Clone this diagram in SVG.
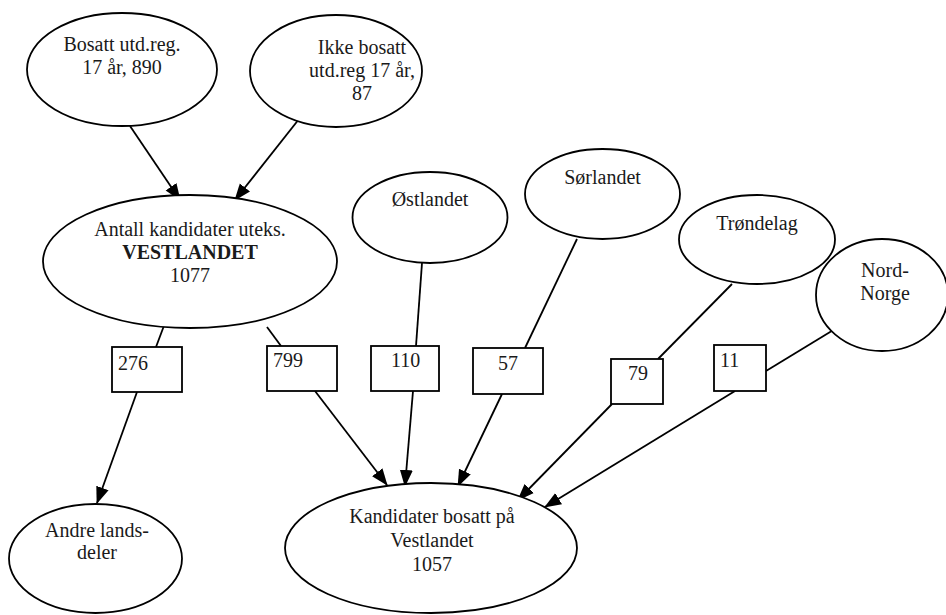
<svg xmlns="http://www.w3.org/2000/svg" width="946" height="615" viewBox="0 0 946 615">
<style>
  .n ellipse, .n rect { fill: #fff; stroke: #000; stroke-width: 1.8; }
  text { font-family: "Liberation Serif", "Times New Roman", serif; font-size: 20px; fill: #1a1a1a; }
  .c { text-anchor: middle; }
  .e line { stroke: #000; stroke-width: 1.8; }
  .a { marker-end: url(#ah); }
</style>
<defs>
  <marker id="ah" markerUnits="userSpaceOnUse" markerWidth="18" markerHeight="14" refX="16" refY="7" orient="auto">
    <path d="M0,0.5 L17,7 L0,13.5 Z" fill="#000"/>
  </marker>
</defs>
<rect width="946" height="615" fill="#fff"/>
<g id="edges" class="e">
  <line class="a" x1="130" y1="126" x2="180" y2="200"/>
  <line class="a" x1="303" y1="114" x2="235" y2="200"/>
  <line x1="165" y1="323" x2="156" y2="347"/>
  <line class="a" x1="137" y1="392" x2="97" y2="503"/>
  <line x1="267" y1="327" x2="281" y2="346"/>
  <line class="a" x1="315" y1="391" x2="387" y2="485"/>
  <line x1="422" y1="263" x2="416" y2="346"/>
  <line class="a" x1="413" y1="391" x2="405" y2="486"/>
  <line x1="577" y1="239" x2="525" y2="348"/>
  <line class="a" x1="502" y1="394" x2="458" y2="486"/>
  <line x1="732" y1="284" x2="658" y2="359"/>
  <line class="a" x1="612" y1="404" x2="518" y2="500"/>
  <line x1="835" y1="329" x2="766" y2="371"/>
  <line class="a" x1="735" y1="391" x2="545" y2="507"/>
</g>
<g id="bosatt" class="n">
  <ellipse cx="122" cy="69.5" rx="95" ry="56.5"/>
  <text class="c" x="122" y="51">Bosatt utd.reg.</text>
  <text class="c" x="122" y="74">17 år, 890</text>
</g>
<g id="ikke-bosatt" class="n">
  <ellipse cx="336" cy="71" rx="86" ry="56"/>
  <text class="c" x="362" y="54">Ikke bosatt</text>
  <text class="c" x="362" y="77">utd.reg 17 år,</text>
  <text class="c" x="362" y="100">87</text>
</g>
<g id="antall" class="n">
  <ellipse cx="190" cy="261.5" rx="147" ry="66.5"/>
  <text class="c" x="190" y="236">Antall kandidater uteks.</text>
  <text class="c" x="190" y="259" font-weight="bold">VESTLANDET</text>
  <text class="c" x="190" y="282">1077</text>
</g>
<g id="ostlandet" class="n">
  <ellipse cx="430" cy="217.5" rx="77.5" ry="45.5"/>
  <text class="c" x="430" y="206">Østlandet</text>
</g>
<g id="sorlandet" class="n">
  <ellipse cx="602.5" cy="194" rx="77.5" ry="45"/>
  <text class="c" x="602.5" y="184">Sørlandet</text>
</g>
<g id="trondelag" class="n">
  <ellipse cx="757" cy="239.5" rx="78" ry="44.5"/>
  <text class="c" x="757" y="230">Trøndelag</text>
</g>
<g id="nord-norge" class="n">
  <ellipse cx="882" cy="295" rx="66" ry="56"/>
  <text class="c" x="885" y="277">Nord-</text>
  <text class="c" x="885" y="300">Norge</text>
</g>
<g id="b276" class="n">
  <rect x="112" y="347" width="70" height="45"/>
  <text x="118" y="370">276</text>
</g>
<g id="b799" class="n">
  <rect x="267" y="346" width="70" height="45"/>
  <text x="273" y="367">799</text>
</g>
<g id="b110" class="n">
  <rect x="371" y="346" width="68" height="45"/>
  <text x="391" y="367">110</text>
</g>
<g id="b57" class="n">
  <rect x="473" y="348" width="70" height="46"/>
  <text x="498" y="370">57</text>
</g>
<g id="b79" class="n">
  <rect x="611" y="359" width="52" height="45"/>
  <text x="628" y="380">79</text>
</g>
<g id="b11" class="n">
  <rect x="714" y="345" width="52" height="46"/>
  <text x="720" y="367">11</text>
</g>
<g id="andre" class="n">
  <ellipse cx="95.5" cy="558.5" rx="86.5" ry="54.5"/>
  <text class="c" x="97" y="537">Andre lands-</text>
  <text class="c" x="97" y="559">deler</text>
</g>
<g id="kandidater" class="n">
  <ellipse cx="431" cy="548" rx="146" ry="65"/>
  <text class="c" x="432" y="523">Kandidater bosatt på</text>
  <text class="c" x="432" y="547">Vestlandet</text>
  <text class="c" x="432" y="571">1057</text>
</g>
</svg>
